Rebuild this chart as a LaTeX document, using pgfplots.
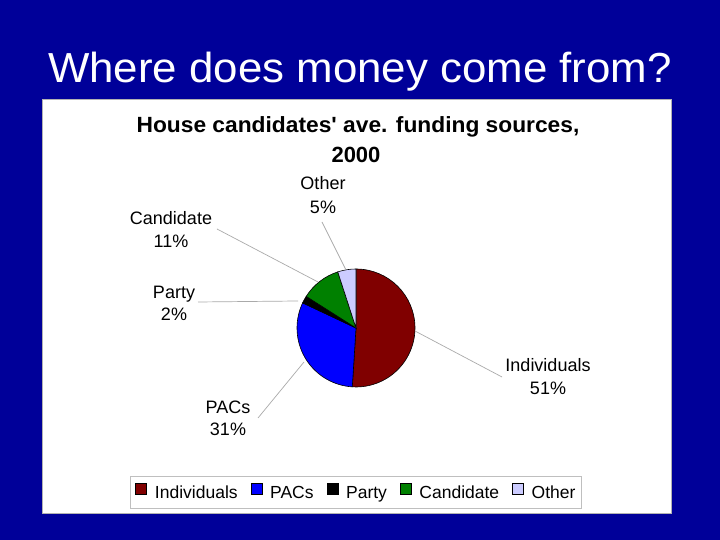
\documentclass[border=0pt]{standalone}
\usepackage{pgfplots}
\pgfplotsset{compat=1.18}
\usepgfplotslibrary{polar}
\usepackage{graphicx}
\usepackage{fontspec}
\setmainfont{Liberation Sans}

\definecolor{slidebg}{RGB}{0,0,153}
\definecolor{indiv}{RGB}{128,0,0}
\definecolor{pacs}{RGB}{0,0,255}
\definecolor{party}{RGB}{0,0,0}
\definecolor{cand}{RGB}{0,128,0}
\definecolor{other}{RGB}{204,204,255}
\definecolor{leader}{RGB}{170,170,170}

\begin{document}
\begin{tikzpicture}[x=1pt,y=1pt]
\fill[slidebg] (0,0) rectangle (720,540);
\useasboundingbox (0,0) rectangle (720,540);
\fill[white, draw=gray!60, line width=0.5pt] (42,27) rectangle (671,441);

\node[anchor=base, text=white, inner sep=0] at (360,457.3)
  {\fontsize{42}{48}\selectfont\scalebox{1.044}[1]{Where does money come from?}};
\node[anchor=base, inner sep=0] at (358,407)
  {\fontsize{22}{26}\selectfont\bfseries\scalebox{1.035}[1]{House candidates\textquotesingle{} ave. funding sources,}};
\node[anchor=base, inner sep=0] at (356,377)
  {\fontsize{22}{26}\selectfont\bfseries 2000};

% shares: Individuals 51, PACs 31, Party 2, Candidate 11, Other 5 (x 3.6 deg)
\begin{polaraxis}[
    at={(356pt,212pt)}, anchor=center,
    scale only axis, width=118pt, height=118pt,
    ymin=0, ymax=1,
    hide axis, clip=false,
    legend columns=5,
    legend image code/.code={\draw[#1,draw=black,line width=0.5pt] (0pt,-1pt) rectangle (11pt,10pt);},
    legend style={at={(0.5,-0.894)}, anchor=center, draw=gray!50, line width=0.8pt,
        font=\fontsize{17.5}{20}\selectfont,
        nodes={inner xsep=1pt, inner ysep=2pt},
        /tikz/every odd column/.append style={column sep=7pt},
        /tikz/every even column/.append style={column sep=12pt},
        inner xsep=5pt, inner ysep=6pt},
]
\addplot[fill=indiv, draw=black, line width=0.6pt] coordinates {(0,0) (90,1)}
    arc[start angle=90, delta angle=-183.6, radius=59pt] -- cycle;
\addplot[fill=pacs, draw=black, line width=0.6pt] coordinates {(0,0) (-93.6,1)}
    arc[start angle=-93.6, delta angle=-111.6, radius=59pt] -- cycle;
\addplot[fill=party, draw=black, line width=0.6pt] coordinates {(0,0) (-205.2,1)}
    arc[start angle=-205.2, delta angle=-7.2, radius=59pt] -- cycle;
\addplot[fill=cand, draw=black, line width=0.6pt] coordinates {(0,0) (-212.4,1)}
    arc[start angle=-212.4, delta angle=-39.6, radius=59pt] -- cycle;
\addplot[fill=other, draw=black, line width=0.6pt] coordinates {(0,0) (-252,1)}
    arc[start angle=-252, delta angle=-18, radius=59pt] -- cycle;
\legend{Individuals, PACs, Party, Candidate, Other}
\end{polaraxis}

% leader lines
\draw[leader, line width=0.7pt] (322,318) -- (346,270);
\draw[leader, line width=0.7pt] (217,311) -- (318,258);
\draw[leader, line width=0.7pt] (198,238) -- (298,239);
\draw[leader, line width=0.7pt] (415,209) -- (502,163);
\draw[leader, line width=0.7pt] (258,122) -- (304,178);

% data labels
\begin{scope}[every node/.style={anchor=base, inner sep=0, font=\fontsize{18}{22}\selectfont}]
\node at (323,350) {Other};
\node at (323,326.7) {5\%};
\node at (171,315.7) {Candidate};
\node at (171,292.7) {11\%};
\node at (174,241.7) {Party};
\node at (174,219.3) {2\%};
\node at (548,168.3) {Individuals};
\node at (548,145) {51\%};
\node at (228,126.7) {PACs};
\node at (228,104) {31\%};
\end{scope}
\end{tikzpicture}
\end{document}
